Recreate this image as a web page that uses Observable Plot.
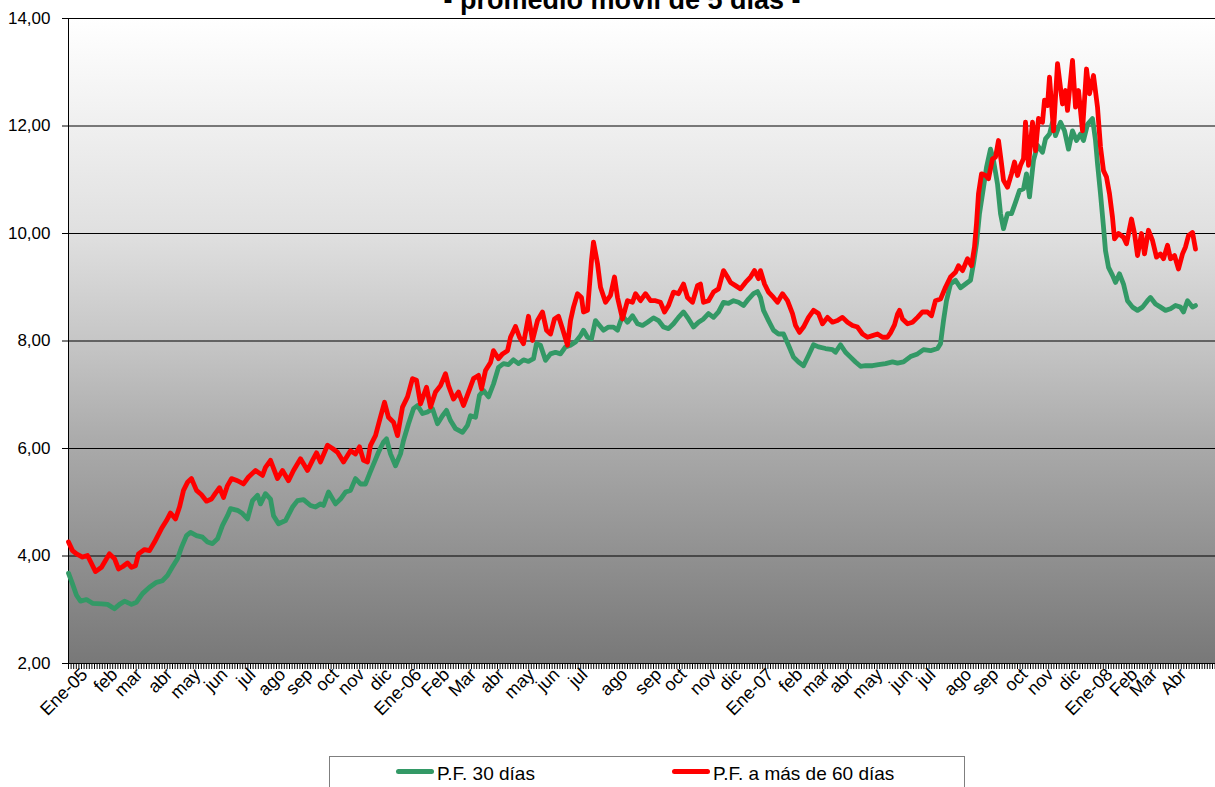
<!DOCTYPE html>
<html>
<head>
<meta charset="utf-8">
<script src="https://cdn.jsdelivr.net/npm/d3@7"></script>
<script src="https://cdn.jsdelivr.net/npm/@observablehq/plot@0.6"></script>
<style>
  html, body { margin: 0; padding: 0; background: #fff; overflow: hidden; }
  #wrap { position: relative; width: 1215px; height: 787px; overflow: hidden;
          font-family: "Liberation Sans", Arial, sans-serif; color: #000; }
  #chart { position: absolute; left: 0; top: 0; }
  #title { position: absolute; left: 0; width: 1244px; top: -13px; text-align: center;
           font-weight: bold; font-size: 27px; line-height: 27px; white-space: nowrap; }
  #legend { position: absolute; left: 329px; top: 756px; width: 636px; height: 60px;
            border: 1.5px solid #7f7f7f; box-sizing: border-box; background: #fff; }
  .sw { position: absolute; height: 5px; border-radius: 2.5px; }
  .lt { position: absolute; font-size: 19px; line-height: 19px; white-space: nowrap; }
</style>
</head>
<body>
<div id="wrap">
  <div id="chart"></div>
  <div id="title"></div>
  <div id="legend"></div>
</div>
<script>
// ---- Data (category position t along the daily axis, value v) ----
const tituloGrafico = "- promedio móvil de 5 días -";
const serieNombres = ["P.F. 30 días", "P.F. a más de 60 días"];
const serieColores = ["#339966", "#ff0000"];

const pf30 = [
[0,3.68],[4,3.48],[8,3.27],[12,3.16],[18,3.19],[24,3.12],[33,3.11],[39,3.10],[46,3.02],[51,3.10],[56,3.16],[63,3.10],[68,3.14],[74,3.30],[81,3.42],[88,3.51],[94,3.54],[99,3.64],[104,3.80],[109,3.95],[113,4.16],[118,4.38],[122,4.44],[128,4.38],[134,4.35],[139,4.26],[144,4.23],[149,4.32],[154,4.57],[159,4.75],[162,4.88],[169,4.85],[174,4.79],[179,4.69],[184,5.03],[189,5.13],[192,4.97],[197,5.16],[202,5.06],[205,4.75],[210,4.60],[217,4.66],[224,4.91],[229,5.03],[235,5.05],[242,4.94],[247,4.91],[252,4.97],[255,4.94],[260,5.19],[267,4.97],[272,5.06],[277,5.19],[282,5.22],[287,5.44],[292,5.34],[297,5.34],[301,5.53],[306,5.75],[310,5.93],[315,6.12],[318,6.18],[322,5.90],[327,5.68],[332,5.90],[335,6.15],[340,6.46],[345,6.74],[349,6.80],[354,6.65],[359,6.68],[364,6.74],[369,6.46],[374,6.61],[378,6.71],[382,6.52],[387,6.37],[394,6.30],[399,6.43],[402,6.61],[407,6.58],[411,6.99],[415,7.08],[420,6.96],[425,7.20],[430,7.51],[435,7.58],[440,7.56],[445,7.65],[450,7.58],[455,7.65],[460,7.62],[465,7.67],[468,7.95],[472,7.92],[477,7.64],[482,7.76],[487,7.79],[492,7.76],[497,7.89],[502,7.92],[507,7.98],[512,8.10],[515,8.20],[519,8.07],[523,8.04],[527,8.38],[531,8.29],[535,8.20],[540,8.26],[545,8.26],[549,8.20],[554,8.47],[559,8.35],[564,8.47],[569,8.32],[574,8.29],[579,8.35],[585,8.43],[590,8.38],[595,8.26],[600,8.23],[605,8.32],[610,8.44],[615,8.54],[620,8.41],[625,8.26],[630,8.35],[635,8.41],[640,8.51],[645,8.44],[650,8.54],[655,8.72],[660,8.70],[665,8.75],[670,8.72],[675,8.66],[680,8.78],[685,8.88],[689,8.92],[692,8.81],[695,8.57],[700,8.38],[705,8.20],[710,8.13],[715,8.13],[720,7.92],[725,7.70],[730,7.61],[735,7.54],[740,7.73],[745,7.93],[750,7.89],[757,7.86],[764,7.84],[767,7.79],[772,7.93],[777,7.79],[782,7.70],[787,7.61],[792,7.53],[797,7.54],[804,7.54],[810,7.56],[817,7.58],[824,7.61],[829,7.59],[835,7.61],[842,7.71],[849,7.76],[855,7.84],[862,7.82],[869,7.86],[872,7.95],[875,8.38],[878,8.75],[882,9.06],[887,9.13],[892,8.99],[897,9.06],[902,9.13],[905,9.44],[908,9.81],[911,10.37],[915,10.86],[918,11.23],[922,11.57],[925,11.36],[929,10.92],[932,10.37],[935,10.09],[939,10.37],[943,10.37],[947,10.58],[951,10.80],[955,10.83],[958,11.11],[961,10.68],[965,11.36],[969,11.64],[974,11.51],[977,11.76],[981,11.85],[984,12.07],[987,11.82],[992,12.07],[996,11.91],[1000,11.57],[1004,11.91],[1008,11.73],[1012,11.85],[1015,11.73],[1019,12.03],[1024,12.14],[1027,11.73],[1029,11.30],[1032,10.74],[1035,10.12],[1037,9.68],[1040,9.37],[1044,9.22],[1047,9.09],[1051,9.25],[1055,9.06],[1059,8.75],[1064,8.63],[1069,8.57],[1074,8.63],[1079,8.75],[1082,8.81],[1087,8.69],[1092,8.63],[1097,8.57],[1102,8.60],[1107,8.66],[1112,8.63],[1115,8.54],[1119,8.75],[1124,8.63],[1127,8.66]
];

const pf60 = [
[0,4.26],[4,4.10],[8,4.04],[14,3.98],[19,4.01],[23,3.86],[27,3.71],[33,3.79],[38,3.95],[41,4.04],[46,3.95],[50,3.76],[54,3.80],[59,3.87],[63,3.79],[67,3.82],[70,4.04],[76,4.12],[81,4.10],[86,4.26],[93,4.51],[98,4.66],[102,4.80],[107,4.69],[111,4.91],[115,5.22],[119,5.37],[123,5.44],[128,5.22],[133,5.14],[138,5.02],[143,5.06],[147,5.17],[151,5.27],[155,5.09],[159,5.31],[163,5.44],[169,5.40],[175,5.34],[180,5.47],[187,5.59],[194,5.50],[197,5.65],[202,5.78],[209,5.44],[214,5.59],[220,5.40],[225,5.59],[232,5.81],[239,5.59],[244,5.78],[248,5.92],[252,5.75],[259,6.06],[264,6.00],[269,5.93],[275,5.75],[282,5.96],[287,5.90],[291,6.03],[295,5.78],[299,5.75],[302,6.06],[307,6.24],[311,6.52],[316,6.86],[320,6.58],[325,6.49],[329,6.24],[334,6.77],[339,6.96],[344,7.30],[348,7.27],[352,6.83],[358,7.14],[362,6.77],[367,7.05],[372,7.17],[377,7.39],[380,7.17],[385,6.92],[390,7.05],[395,6.80],[400,7.05],[405,7.30],[410,7.36],[413,7.11],[417,7.45],[422,7.60],[425,7.82],[430,7.67],[434,7.76],[439,7.82],[442,8.07],[447,8.27],[451,8.07],[455,7.95],[460,8.46],[464,8.01],[469,8.38],[474,8.54],[478,8.20],[482,8.13],[486,8.41],[490,8.46],[494,8.23],[499,7.92],[502,8.38],[505,8.63],[509,8.88],[513,8.81],[515,8.54],[519,8.57],[523,9.50],[525,9.84],[529,9.44],[532,9.00],[537,8.72],[542,8.85],[546,9.19],[549,8.81],[554,8.41],[559,8.75],[564,8.72],[567,8.88],[572,8.75],[577,8.88],[582,8.75],[587,8.75],[592,8.72],[596,8.54],[600,8.66],[605,8.91],[610,8.88],[615,9.06],[619,8.81],[624,8.72],[629,9.03],[632,9.06],[635,8.72],[640,8.75],[645,8.91],[650,8.97],[655,9.31],[659,9.19],[662,9.09],[667,9.03],[672,8.97],[677,9.09],[682,9.19],[686,9.31],[690,9.16],[692,9.31],[696,9.06],[700,8.91],[705,8.81],[709,8.72],[714,8.88],[719,8.75],[724,8.51],[727,8.29],[731,8.16],[735,8.26],[740,8.44],[745,8.57],[750,8.51],[754,8.32],[759,8.44],[764,8.35],[769,8.38],[774,8.44],[779,8.35],[784,8.29],[789,8.26],[794,8.13],[799,8.07],[804,8.10],[809,8.13],[814,8.07],[819,8.07],[822,8.15],[826,8.30],[829,8.50],[831,8.57],[834,8.41],[839,8.32],[844,8.35],[849,8.44],[854,8.54],[859,8.54],[863,8.47],[867,8.75],[872,8.78],[877,9.00],[882,9.19],[887,9.28],[890,9.40],[894,9.31],[899,9.53],[903,9.40],[906,9.75],[908,10.18],[910,10.74],[913,11.11],[917,11.08],[920,11.02],[924,11.39],[927,11.42],[930,11.73],[933,11.30],[935,10.99],[939,10.86],[943,11.11],[946,11.33],[949,11.08],[952,11.27],[955,11.39],[957,12.07],[960,11.27],[964,12.07],[967,11.54],[970,12.14],[974,12.07],[976,12.48],[979,12.38],[981,12.91],[985,11.91],[989,13.16],[994,12.41],[997,12.66],[999,12.29],[1004,13.22],[1007,12.35],[1010,12.66],[1014,11.91],[1018,13.06],[1021,12.60],[1025,12.94],[1029,12.35],[1032,11.61],[1035,11.17],[1038,11.05],[1041,10.74],[1044,10.30],[1046,9.90],[1050,10.00],[1055,9.93],[1058,9.81],[1063,10.27],[1066,10.00],[1069,9.59],[1073,10.00],[1076,9.62],[1080,10.06],[1084,9.87],[1088,9.56],[1092,9.62],[1095,9.53],[1099,9.78],[1102,9.53],[1106,9.59],[1110,9.34],[1114,9.62],[1117,9.75],[1120,9.96],[1124,10.02],[1127,9.71]
];

const mesEtiquetas = ["Ene-05","feb","mar","abr","may","jun","jul","ago","sep","oct","nov","dic",
  "Ene-06","Feb","Mar","abr","may","jun","jul","ago","sep","oct","nov","dic",
  "Ene-07","feb","mar","abr","may","jun","jul","ago","sep","oct","nov","dic",
  "Ene-08","Feb","Mar","Abr"];
const mesPosiciones = [16,46,71,101,129,156,184,214,241,267,293,320,
  350,378,405,433,463,488,516,556,590,615,645,670,
  702,731,758,782,811,841,864,900,927,956,982,1009,
  1041,1066,1086,1115];
const yTicks = [2,4,6,8,10,12,14];
const ejeX = [0, 1147];
const pasoSesion = 2.6;

// ---- Chart ----
const font = "'Liberation Sans', Arial, sans-serif";
const toRows = arr => arr.map(([t, v]) => ({t, v}));
const dayTicks = d3.range(ejeX[0], ejeX[1], pasoSesion);

const chart = Plot.plot({
  width: 1215,
  height: 745,
  marginLeft: 68,
  marginRight: 0,
  marginTop: 18,
  marginBottom: 82,
  style: {fontFamily: font, fontSize: "17px", color: "#000", background: "transparent", overflow: "visible"},
  x: {domain: ejeX, axis: null},
  y: {domain: [2, 14], axis: null},
  marks: [
    Plot.frame({fill: "#cccccc", stroke: null}),
    Plot.gridY(yTicks, {stroke: "#000", strokeOpacity: 1, strokeWidth: 1}),
    Plot.ruleX([ejeX[0]], {stroke: "#000", strokeWidth: 1}),
    Plot.axisY({ticks: yTicks, label: null, tickFormat: d => d.toFixed(2).replace(".", ","), tickSize: 6, tickPadding: 12, fontSize: 17, stroke: "#000"}),
    Plot.axisX({ticks: dayTicks, label: null, tickSize: 6, tickFormat: () => "", stroke: "#000", strokeWidth: 1}),
    Plot.axisX({ticks: mesPosiciones, label: null, tickSize: 0, tickPadding: 8, tickRotate: -45, fontSize: 18,
      tickFormat: d => mesEtiquetas[mesPosiciones.indexOf(d)]}),
    Plot.line(toRows(pf30), {x: "t", y: "v", stroke: serieColores[0], strokeWidth: 4.8, strokeLinejoin: "round", strokeLinecap: "round"}),
    Plot.line(toRows(pf60), {x: "t", y: "v", stroke: serieColores[1], strokeWidth: 4.8, strokeLinejoin: "round", strokeLinecap: "round"})
  ]
});

// background gradient for the plot area
const ns = "http://www.w3.org/2000/svg";
const defs = document.createElementNS(ns, "defs");
const grad = document.createElementNS(ns, "linearGradient");
grad.setAttribute("id", "bgGrad");
grad.setAttribute("x1", "0"); grad.setAttribute("y1", "0");
grad.setAttribute("x2", "0"); grad.setAttribute("y2", "1");
[[0, "#ffffff"], [0.33, "#e0e0e0"], [0.5, "#c6c6c6"], [0.67, "#a8a8a8"], [1, "#787878"]].forEach(([o, c]) => {
  const s = document.createElementNS(ns, "stop");
  s.setAttribute("offset", o);
  s.setAttribute("stop-color", c);
  grad.appendChild(s);
});
defs.appendChild(grad);
chart.insertBefore(defs, chart.firstChild);
const frameEl = chart.querySelector('[aria-label="frame"]');
if (frameEl) {
  const r = frameEl.tagName.toLowerCase() === "rect" ? frameEl : frameEl.querySelector("rect");
  if (r) r.setAttribute("fill", "url(#bgGrad)");
  frameEl.setAttribute("fill", "url(#bgGrad)");
}

document.getElementById("chart").appendChild(chart);
document.getElementById("title").textContent = tituloGrafico;

// legend
const legend = document.getElementById("legend");
const legendX = [[66, 107], [342, 383]];
serieNombres.forEach((name, i) => {
  const sw = document.createElement("div");
  sw.className = "sw";
  sw.style.left = legendX[i][0] + "px";
  sw.style.top = "12px";
  sw.style.width = "38px";
  sw.style.background = serieColores[i];
  legend.appendChild(sw);
  const lt = document.createElement("div");
  lt.className = "lt";
  lt.style.left = legendX[i][1] + "px";
  lt.style.top = "7px";
  lt.textContent = name;
  legend.appendChild(lt);
});
</script>
</body>
</html>
